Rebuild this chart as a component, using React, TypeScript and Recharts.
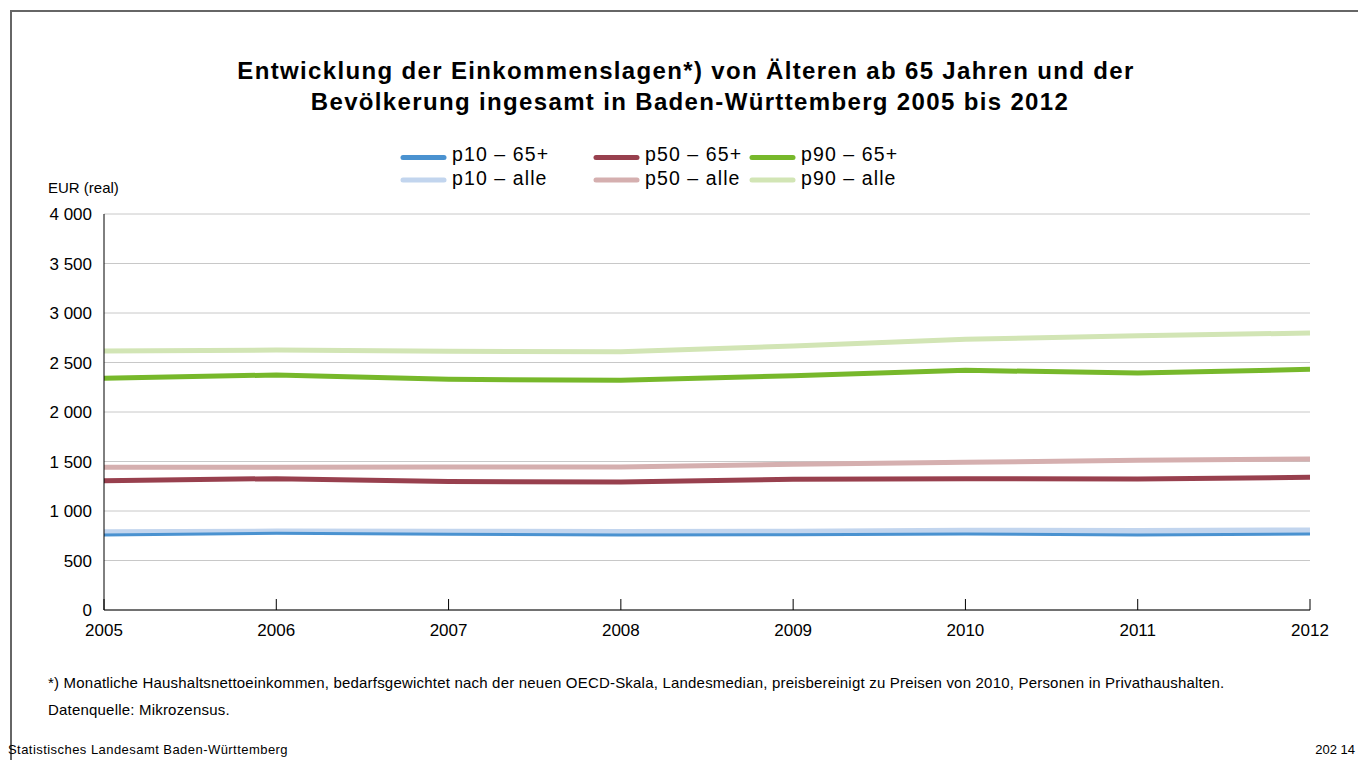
import React from "react";
import { LineChart, Line, XAxis, YAxis, CartesianGrid } from "recharts";

const years = ["2005", "2006", "2007", "2008", "2009", "2010", "2011", "2012"];
const p10Senior = [758, 775, 765, 758, 761, 768, 758, 768];
const p10All = [785, 792, 790, 788, 790, 800, 798, 803];
const p50Senior = [1306, 1327, 1297, 1293, 1320, 1327, 1322, 1340];
const p50All = [1441, 1441, 1444, 1444, 1472, 1492, 1512, 1525];
const p90Senior = [2340, 2374, 2330, 2320, 2367, 2421, 2394, 2431];
const p90All = [2616, 2626, 2613, 2609, 2667, 2734, 2770, 2798];
const yTicks = [0, 500, 1000, 1500, 2000, 2500, 3000, 3500, 4000];

const data = years.map((year, i) => ({
  year,
  p10Senior: p10Senior[i],
  p10All: p10All[i],
  p50Senior: p50Senior[i],
  p50All: p50All[i],
  p90Senior: p90Senior[i],
  p90All: p90All[i],
}));

// drawing order: light "alle" lines under the 65+ ones
const SERIES = [
  { key: "p90All", name: "p90 – alle", color: "#d2e5b5", width: 5 },
  { key: "p90Senior", name: "p90 – 65+", color: "#77b82b", width: 5 },
  { key: "p50All", name: "p50 – alle", color: "#d5afaf", width: 5 },
  { key: "p50Senior", name: "p50 – 65+", color: "#98404e", width: 5 },
  { key: "p10All", name: "p10 – alle", color: "#c2d5ee", width: 6 },
  { key: "p10Senior", name: "p10 – 65+", color: "#4a92d0", width: 3 },
];

// legend grid: columns p10 / p50 / p90, rows 65+ / alle
const LEGEND_LAYOUT = [
  { key: "p10Senior", x: 403, row: 0 },
  { key: "p10All", x: 403, row: 1 },
  { key: "p50Senior", x: 596, row: 0 },
  { key: "p50All", x: 596, row: 1 },
  { key: "p90Senior", x: 752, row: 0 },
  { key: "p90All", x: 752, row: 1 },
];

const FONT = "'Liberation Sans', Arial, sans-serif";

function fmtThousands(v: number): string {
  if (v < 1000) return String(v);
  return `${Math.floor(v / 1000)} ${String(v % 1000).padStart(3, "0")}`;
}

function YearTick(props: any) {
  const { x, y, payload } = props;
  return (
    <g>
      <line x1={x} x2={x} y1={y - 11} y2={y} stroke="#000" strokeWidth={1} />
      <text x={x} y={y + 26} textAnchor="middle" fontSize={17} fill="#000" fontFamily={FONT}>
        {payload.value}
      </text>
    </g>
  );
}

function LegendBlock() {
  return (
    <svg width={1358} height={60} style={{ position: "absolute", left: 0, top: 138 }}>
      {LEGEND_LAYOUT.map((item) => {
        const s = SERIES.find((d) => d.key === item.key)!;
        const ly = item.row === 0 ? 19.5 : 42;
        const ty = item.row === 0 ? 23 : 47;
        return (
          <g key={item.key}>
            <line
              x1={item.x}
              x2={item.x + 41}
              y1={ly}
              y2={ly}
              stroke={s.color}
              strokeWidth={5}
              strokeLinecap="round"
            />
            <text
              x={item.x + 49}
              y={ty}
              fontSize={19.5}
              letterSpacing={1.1}
              fill="#000"
              fontFamily={FONT}
            >
              {s.name}
            </text>
          </g>
        );
      })}
    </svg>
  );
}

export default function App() {
  return (
    <div
      style={{
        position: "absolute",
        left: 0,
        top: 0,
        width: 1358,
        height: 760,
        overflow: "hidden",
        background: "#fff",
        fontFamily: FONT,
      }}
    >
      <div
        style={{
          position: "absolute",
          left: 10,
          top: 10,
          width: 1400,
          height: 800,
          borderLeft: "2px solid #666",
          borderTop: "2px solid #666",
        }}
      />
      <LineChart
        width={1358}
        height={760}
        data={data}
        margin={{ top: 214, right: 48, left: 44, bottom: 120 }}
        style={{ position: "absolute", left: 0, top: 0 }}
      >
        <CartesianGrid vertical={false} stroke="#c8c8c8" strokeWidth={1} />
        <XAxis
          dataKey="year"
          height={30}
          axisLine={{ stroke: "#000", strokeWidth: 1 }}
          tickLine={false}
          tickSize={0}
          tickMargin={0}
          interval={0}
          tick={<YearTick />}
        />
        <YAxis
          width={60}
          domain={[0, 4000]}
          ticks={yTicks}
          axisLine={{ stroke: "#000", strokeWidth: 1 }}
          tickLine={false}
          tickSize={6}
          tickMargin={6}
          tickFormatter={fmtThousands}
          tick={{ fontSize: 17, fill: "#000", fontFamily: FONT }}
        />
        {SERIES.map((s) => (
          <Line
            key={s.key}
            type="linear"
            dataKey={s.key}
            name={s.name}
            stroke={s.color}
            strokeWidth={s.width}
            dot={false}
            activeDot={false}
            isAnimationActive={false}
          />
        ))}
      </LineChart>
      <LegendBlock />
      <svg
        width={1358}
        height={760}
        style={{ position: "absolute", left: 0, top: 0, pointerEvents: "none" }}
        fontFamily={FONT}
      >
        <text x={686} y={79} textAnchor="middle" fontSize={24} letterSpacing={1.35} fontWeight="bold" fill="#000">
          Entwicklung der Einkommenslagen*) von Älteren ab 65 Jahren und der
        </text>
        <text x={690} y={110} textAnchor="middle" fontSize={24} letterSpacing={1.35} fontWeight="bold" fill="#000">
          Bevölkerung ingesamt in Baden-Württemberg 2005 bis 2012
        </text>
        <text x={48} y={193} fontSize={15} fill="#000">
          EUR (real)
        </text>
        <text x={48} y={688} fontSize={15} letterSpacing={0.2} fill="#000">
          *) Monatliche Haushaltsnettoeinkommen, bedarfsgewichtet nach der neuen OECD-Skala, Landesmedian, preisbereinigt zu Preisen von 2010, Personen in Privathaushalten.
        </text>
        <text x={48} y={715} fontSize={15} letterSpacing={0.2} fill="#000">
          Datenquelle: Mikrozensus.
        </text>
        <text x={8} y={754} fontSize={13} letterSpacing={0.45} fill="#000">
          Statistisches Landesamt Baden-Württemberg
        </text>
        <text x={1355} y={754} fontSize={13} fill="#000" textAnchor="end">
          202 14
        </text>
      </svg>
    </div>
  );
}
